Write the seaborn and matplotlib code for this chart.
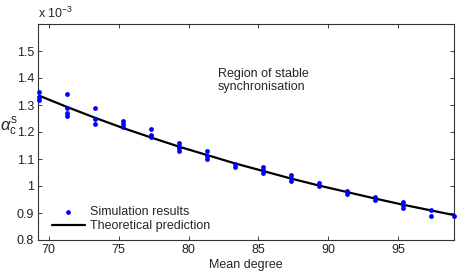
import numpy as np
import pandas as pd
import seaborn as sns
import matplotlib.pyplot as plt

# ====================== DATA ======================
# simulation results (alpha_c^s, units of 1e-3) per mean degree
sim_degree = [69.3, 69.3, 69.3,
              71.3, 71.3, 71.3, 71.3,
              73.3, 73.3, 73.3,
              75.3, 75.3, 75.3,
              77.3, 77.3, 77.3,
              79.3, 79.3, 79.3, 79.3,
              81.3, 81.3, 81.3,
              83.3, 83.3,
              85.3, 85.3, 85.3,
              87.3, 87.3, 87.3,
              89.3, 89.3,
              91.3, 91.3,
              93.3, 93.3,
              95.3, 95.3, 95.3,
              97.3, 97.3,
              99.0]
sim_alpha = [1.35, 1.33, 1.32,
             1.34, 1.29, 1.27, 1.26,
             1.29, 1.25, 1.23,
             1.24, 1.23, 1.22,
             1.21, 1.19, 1.18,
             1.16, 1.15, 1.14, 1.13,
             1.13, 1.11, 1.10,
             1.08, 1.07,
             1.07, 1.06, 1.05,
             1.04, 1.03, 1.02,
             1.01, 1.00,
             0.98, 0.97,
             0.96, 0.95,
             0.94, 0.93, 0.92,
             0.91, 0.89,
             0.89]

# theoretical prediction
theory_degree = [69.3, 71.3, 73.3, 75.3, 77.3, 79.3, 81.3, 83.3,
                 85.3, 87.3, 89.3, 91.3, 93.3, 95.3, 97.3, 99.0]
theory_alpha = [1.335, 1.293, 1.253, 1.215, 1.180, 1.146, 1.115, 1.084,
                1.056, 1.028, 1.002, 0.978, 0.954, 0.931, 0.910, 0.892]

x_ticks = [70, 75, 80, 85, 90, 95]
y_ticks = [0.8, 0.9, 1.0, 1.1, 1.2, 1.3, 1.4, 1.5]
y_tick_labels = ["0.8", "0.9", "1", "1.1", "1.2", "1.3", "1.4", "1.5"]

sim_df = pd.DataFrame({"degree": sim_degree, "alpha": sim_alpha})
th_df = pd.DataFrame({"degree": theory_degree, "alpha": theory_alpha})

# ====================== PLOT ======================
sns.set_style("ticks")
plt.rcParams["font.family"] = ["Liberation Sans", "DejaVu Sans"]
plt.rcParams["mathtext.fontset"] = "custom"
plt.rcParams["mathtext.rm"] = "Liberation Sans"
plt.rcParams["mathtext.it"] = "Liberation Sans:italic"

fig = plt.figure(figsize=(4.64, 2.72), dpi=100)
ax = fig.add_axes([38.3 / 464, 1 - 240 / 272, (454.3 - 38.3) / 464, (240 - 24) / 272])

sns.scatterplot(data=sim_df, x="degree", y="alpha", ax=ax, color="#0000ff",
                s=12, linewidth=0, label="Simulation results", zorder=3,
                clip_on=False)
sns.lineplot(data=th_df, x="degree", y="alpha", ax=ax, color="black",
             linewidth=1.6, label="Theoretical prediction", zorder=2)

ax.set_xlim(69.26, 99.0)
ax.set_ylim(0.8, 1.6)
ax.set_xticks(x_ticks)
ax.set_xticklabels([str(t) for t in x_ticks])
ax.set_yticks(y_ticks)
ax.set_yticklabels(y_tick_labels)
ax.tick_params(direction="in", top=True, right=True, length=3, width=0.6,
               labelsize=9, pad=3, colors="#222222")
for sp in ax.spines.values():
    sp.set_linewidth(0.8)
    sp.set_color("#333333")

ax.set_xlabel("Mean degree", fontsize=9, labelpad=2)
ax.set_ylabel("")
fig.text(0.0, 1 - 127 / 272, r"$\alpha_{\rm c}^{\rm s}$", fontsize=12,
         ha="left", va="center")
fig.text(38 / 464, 1 - 13 / 272, r"x 10$^{-3}$", fontsize=9, ha="left",
         va="center")

ax.text(82.1, 1.39, "Region of stable\nsynchronisation", fontsize=9,
        ha="left", va="center", linespacing=1.15)

leg = ax.legend(loc="lower left", frameon=False, fontsize=9,
                handlelength=2.6, handletextpad=0.4, borderaxespad=0.2,
                labelspacing=0.2, bbox_to_anchor=(0.015, 0.0))

fig.savefig("out.png", dpi=100)
